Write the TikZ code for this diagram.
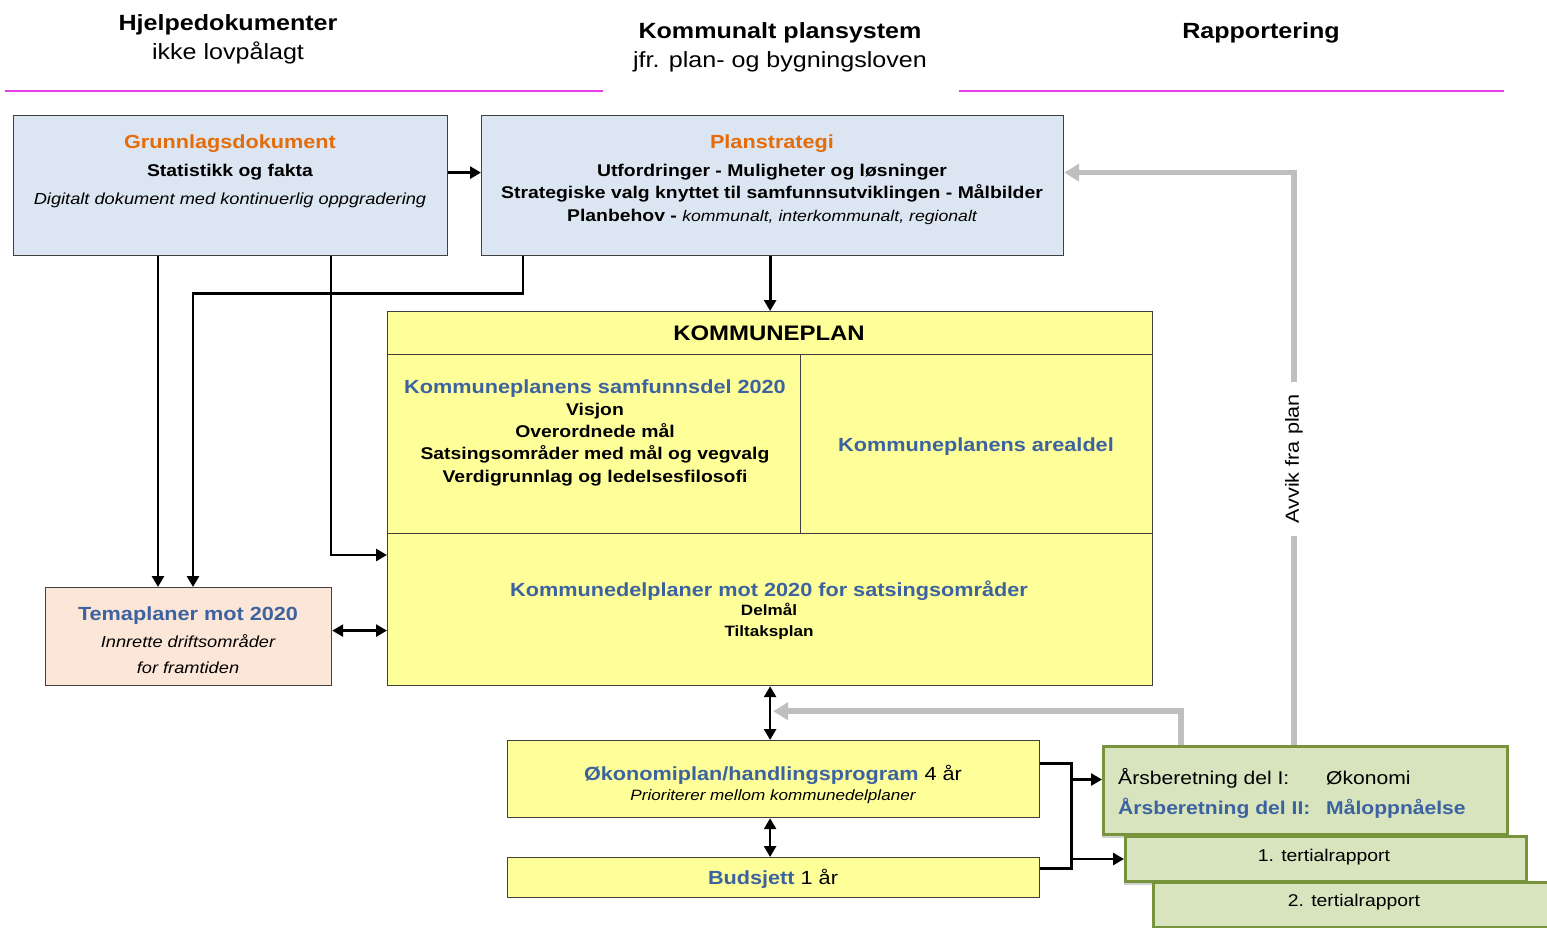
\documentclass[tikz,border=0pt]{standalone}
\usepackage{fontspec}
\setmainfont[FakeStretch=1.14]{Liberation Sans}
\usetikzlibrary{positioning,arrows.meta,shadows}
\definecolor{orangetxt}{HTML}{E46C0A}
\definecolor{bluetxt}{HTML}{3C62A0}
\definecolor{bluefill}{HTML}{DCE6F2}
\definecolor{yellowfill}{HTML}{FFFF99}
\definecolor{peachfill}{HTML}{FCE6D8}
\definecolor{greenfill}{HTML}{D7E4BD}
\definecolor{greenline}{HTML}{77933C}
\definecolor{greyarrow}{HTML}{BFBFBF}
\definecolor{magline}{HTML}{E83CE8}
\newcommand{\tsize}[1]{\fontsize{#1}{#1}\selectfont}
\tikzset{
	box/.style={draw=black!75, line width=1.2pt, inner sep=0pt, anchor=north west},
	bluebox/.style={box, fill=bluefill},
	yellowbox/.style={box, fill=yellowfill},
	peachbox/.style={box, fill=peachfill},
	greenbox/.style={box, draw=greenline, line width=3pt, fill=greenfill,
		drop shadow={shadow xshift=-2pt, shadow yshift=-3pt, fill=black!35}},
	txt/.style={anchor=base, inner sep=0pt},
	txtl/.style={anchor=base west, inner sep=0pt},
	conn/.style={line width=2.8pt, black},
	arr/.style={conn, -{Triangle[length=11pt,width=12pt]}},
	darr/.style={line width=2.6pt, black, {Triangle[length=11pt,width=12pt]}-{Triangle[length=11pt,width=12pt]}},
	greyarr/.style={line width=5.5pt, greyarrow, -{Triangle[length=15pt,width=17pt]}}
}

\begin{document}
\begin{tikzpicture}[x=1pt,y=-1pt]
	\useasboundingbox (0,0) rectangle (1547,927);
	\clip (0,0) rectangle (1547,927);

	% column heads
	\node[txt] (h-hjelp) at (228,30) {\tsize{22}\bfseries Hjelpedokumenter};
	\node[txt] (h-lov) at (228,59) {\tsize{22}ikke lovpålagt};
	\node[txt] (h-plan) at (780,38) {\tsize{22}\bfseries Kommunalt plansystem};
	\node[txt] (h-pbl) at (780,67) {\tsize{22}jfr. plan- og bygningsloven};
	\node[txt] (h-rapp) at (1261,38) {\tsize{22}\bfseries Rapportering};
	\draw[magline, line width=1.2pt] (5,91) -- (603,91);
	\draw[magline, line width=1.2pt] (959,91) -- (1504,91);

	% top row
	\node[bluebox, minimum width=434, minimum height=140] (grunn) at (13,115) {};
	\node[txt] (g-1) at (230,148) {\tsize{19}\bfseries\color{orangetxt}Grunnlagsdokument};
	\node[txt] (g-2) at (230,176) {\tsize{17}\bfseries Statistikk og fakta};
	\node[txt] (g-3) at (230,204) {\tsize{16}\itshape Digitalt dokument med kontinuerlig oppgradering};

	\node[bluebox, minimum width=582, minimum height=140] (plan) at (481,115) {};
	\node[txt] (p-1) at (772,148) {\tsize{19}\bfseries\color{orangetxt}Planstrategi};
	\node[txt] (p-2) at (772,176) {\tsize{17}\bfseries Utfordringer - Muligheter og løsninger};
	\node[txt] (p-3) at (772,198) {\tsize{17}\bfseries Strategiske valg knyttet til samfunnsutviklingen - Målbilder};
	\node[txt] (p-4) at (772,221) {\tsize{17}\bfseries Planbehov - {\mdseries\itshape\tsize{15.5}kommunalt, interkommunalt, regionalt}};

	% kommuneplan
	\node[yellowbox, minimum width=765, minimum height=43] (kplan) at (387,311) {};
	\node[txt] (k-1) at (769,340) {\tsize{21}\bfseries KOMMUNEPLAN};
	\node[yellowbox, minimum width=413, minimum height=179] (samf) at (387,354) {};
	\node[txt] (s-1) at (595,393) {\tsize{19}\bfseries\color{bluetxt}Kommuneplanens samfunnsdel 2020};
	\node[txt] (s-2) at (595,415) {\tsize{17}\bfseries Visjon};
	\node[txt] (s-3) at (595,437) {\tsize{17}\bfseries Overordnede mål};
	\node[txt] (s-4) at (595,459) {\tsize{17}\bfseries Satsingsområder med mål og vegvalg};
	\node[txt] (s-5) at (595,482) {\tsize{17}\bfseries Verdigrunnlag og ledelsesfilosofi};
	\node[yellowbox, minimum width=352, minimum height=179] (areal) at (800,354) {};
	\node[txt] (a-1) at (976,451) {\tsize{19}\bfseries\color{bluetxt}Kommuneplanens arealdel};
	\node[yellowbox, minimum width=765, minimum height=152] (kdel) at (387,533) {};
	\node[txt] (d-1) at (769,596) {\tsize{19}\bfseries\color{bluetxt}Kommunedelplaner mot 2020 for satsingsområder};
	\node[txt] (d-2) at (769,615) {\tsize{15}\bfseries Delmål};
	\node[txt] (d-3) at (769,636) {\tsize{15}\bfseries Tiltaksplan};

	% temaplaner
	\node[peachbox, minimum width=286, minimum height=98] (tema) at (45,587) {};
	\node[txt] (t-1) at (188,620) {\tsize{19}\bfseries\color{bluetxt}Temaplaner mot 2020};
	\node[txt] (t-2) at (188,647) {\tsize{16}\itshape Innrette driftsområder};
	\node[txt] (t-3) at (188,673) {\tsize{16}\itshape for framtiden};

	% okonomi og budsjett
	\node[yellowbox, minimum width=532, minimum height=77] (okon) at (507,740) {};
	\node[txt] (o-1) at (773,780) {\tsize{19}{\bfseries\color{bluetxt}Økonomiplan/handlingsprogram} 4 år};
	\node[txt] (o-2) at (773,800) {\tsize{15}\itshape Prioriterer mellom kommunedelplaner};
	\node[yellowbox, minimum width=532, minimum height=40] (budsj) at (507,857) {};
	\node[txt] (b-1) at (773,884) {\tsize{19}{\bfseries\color{bluetxt}Budsjett} 1 år};

	% rapportering
	\node[greenbox, minimum width=404, minimum height=88] (arsb) at (1102,745) {};
	\node[txtl] (r-1) at (1118,784) {\tsize{18.5}Årsberetning del I:};
	\node[txtl] (r-2) at (1326,784) {\tsize{18.5}Økonomi};
	\node[txtl] (r-3) at (1118,814) {\tsize{18.5}\bfseries\color{bluetxt}Årsberetning del II:};
	\node[txtl] (r-4) at (1326,814) {\tsize{18.5}\bfseries\color{bluetxt}Måloppnåelse};
	\node[greenbox, minimum width=401, minimum height=45] (ter1) at (1124,835) {};
	\node[txt] (r-5) at (1324,861) {\tsize{17}1. tertialrapport};
	\node[greenbox, minimum width=410, minimum height=45] (ter2) at (1152,881) {};
	\node[txt] (r-6) at (1354,906) {\tsize{17}2. tertialrapport};

	% connectors
	\draw[arr] ([yshift=13]grunn.east) -- ([yshift=13]grunn.east -| plan.west);
	\draw[arr] (plan.south -| kplan.north) -- (kplan.north);
	\draw[arr] ([xshift=145]grunn.south west) -- ([xshift=113]tema.north west);
	\draw[arr] ([xshift=42]plan.south west) -- ++(0,37) -| ([xshift=148]tema.north west);
	\draw[arr] ([xshift=318]grunn.south west) |- ([yshift=-22]kdel.north west);
	\draw[darr] ([yshift=6]tema.east) -- ([yshift=6]tema.east -| kdel.west);
	\draw[darr] (kdel.south) -- (kdel.south |- okon.north);
	\draw[darr] (kdel.south |- okon.south) -- (kdel.south |- budsj.north);
	\draw[conn] ([yshift=16]okon.east) -- ++(31,0) coordinate (jn) |- ([yshift=9]budsj.east);
	\draw[arr] (jn |- arsb.west) ++(0,-11) -- ([yshift=11]arsb.west);
	\draw[arr] (jn |- ter1.west) -- (ter1.west);

	% avvik
	\draw[greyarr] ([xshift=192]arsb.north west) |- ([yshift=13]plan.east)
		node[pos=0.25, rotate=90, fill=white, inner xsep=12pt, inner ysep=2pt, text=black] (avvik) {\tsize{19}Avvik fra plan};
	\draw[greyarr] ([xshift=79]arsb.north west) |- ([xshift=3,yshift=-25]kdel.south);

\end{tikzpicture}
\end{document}
